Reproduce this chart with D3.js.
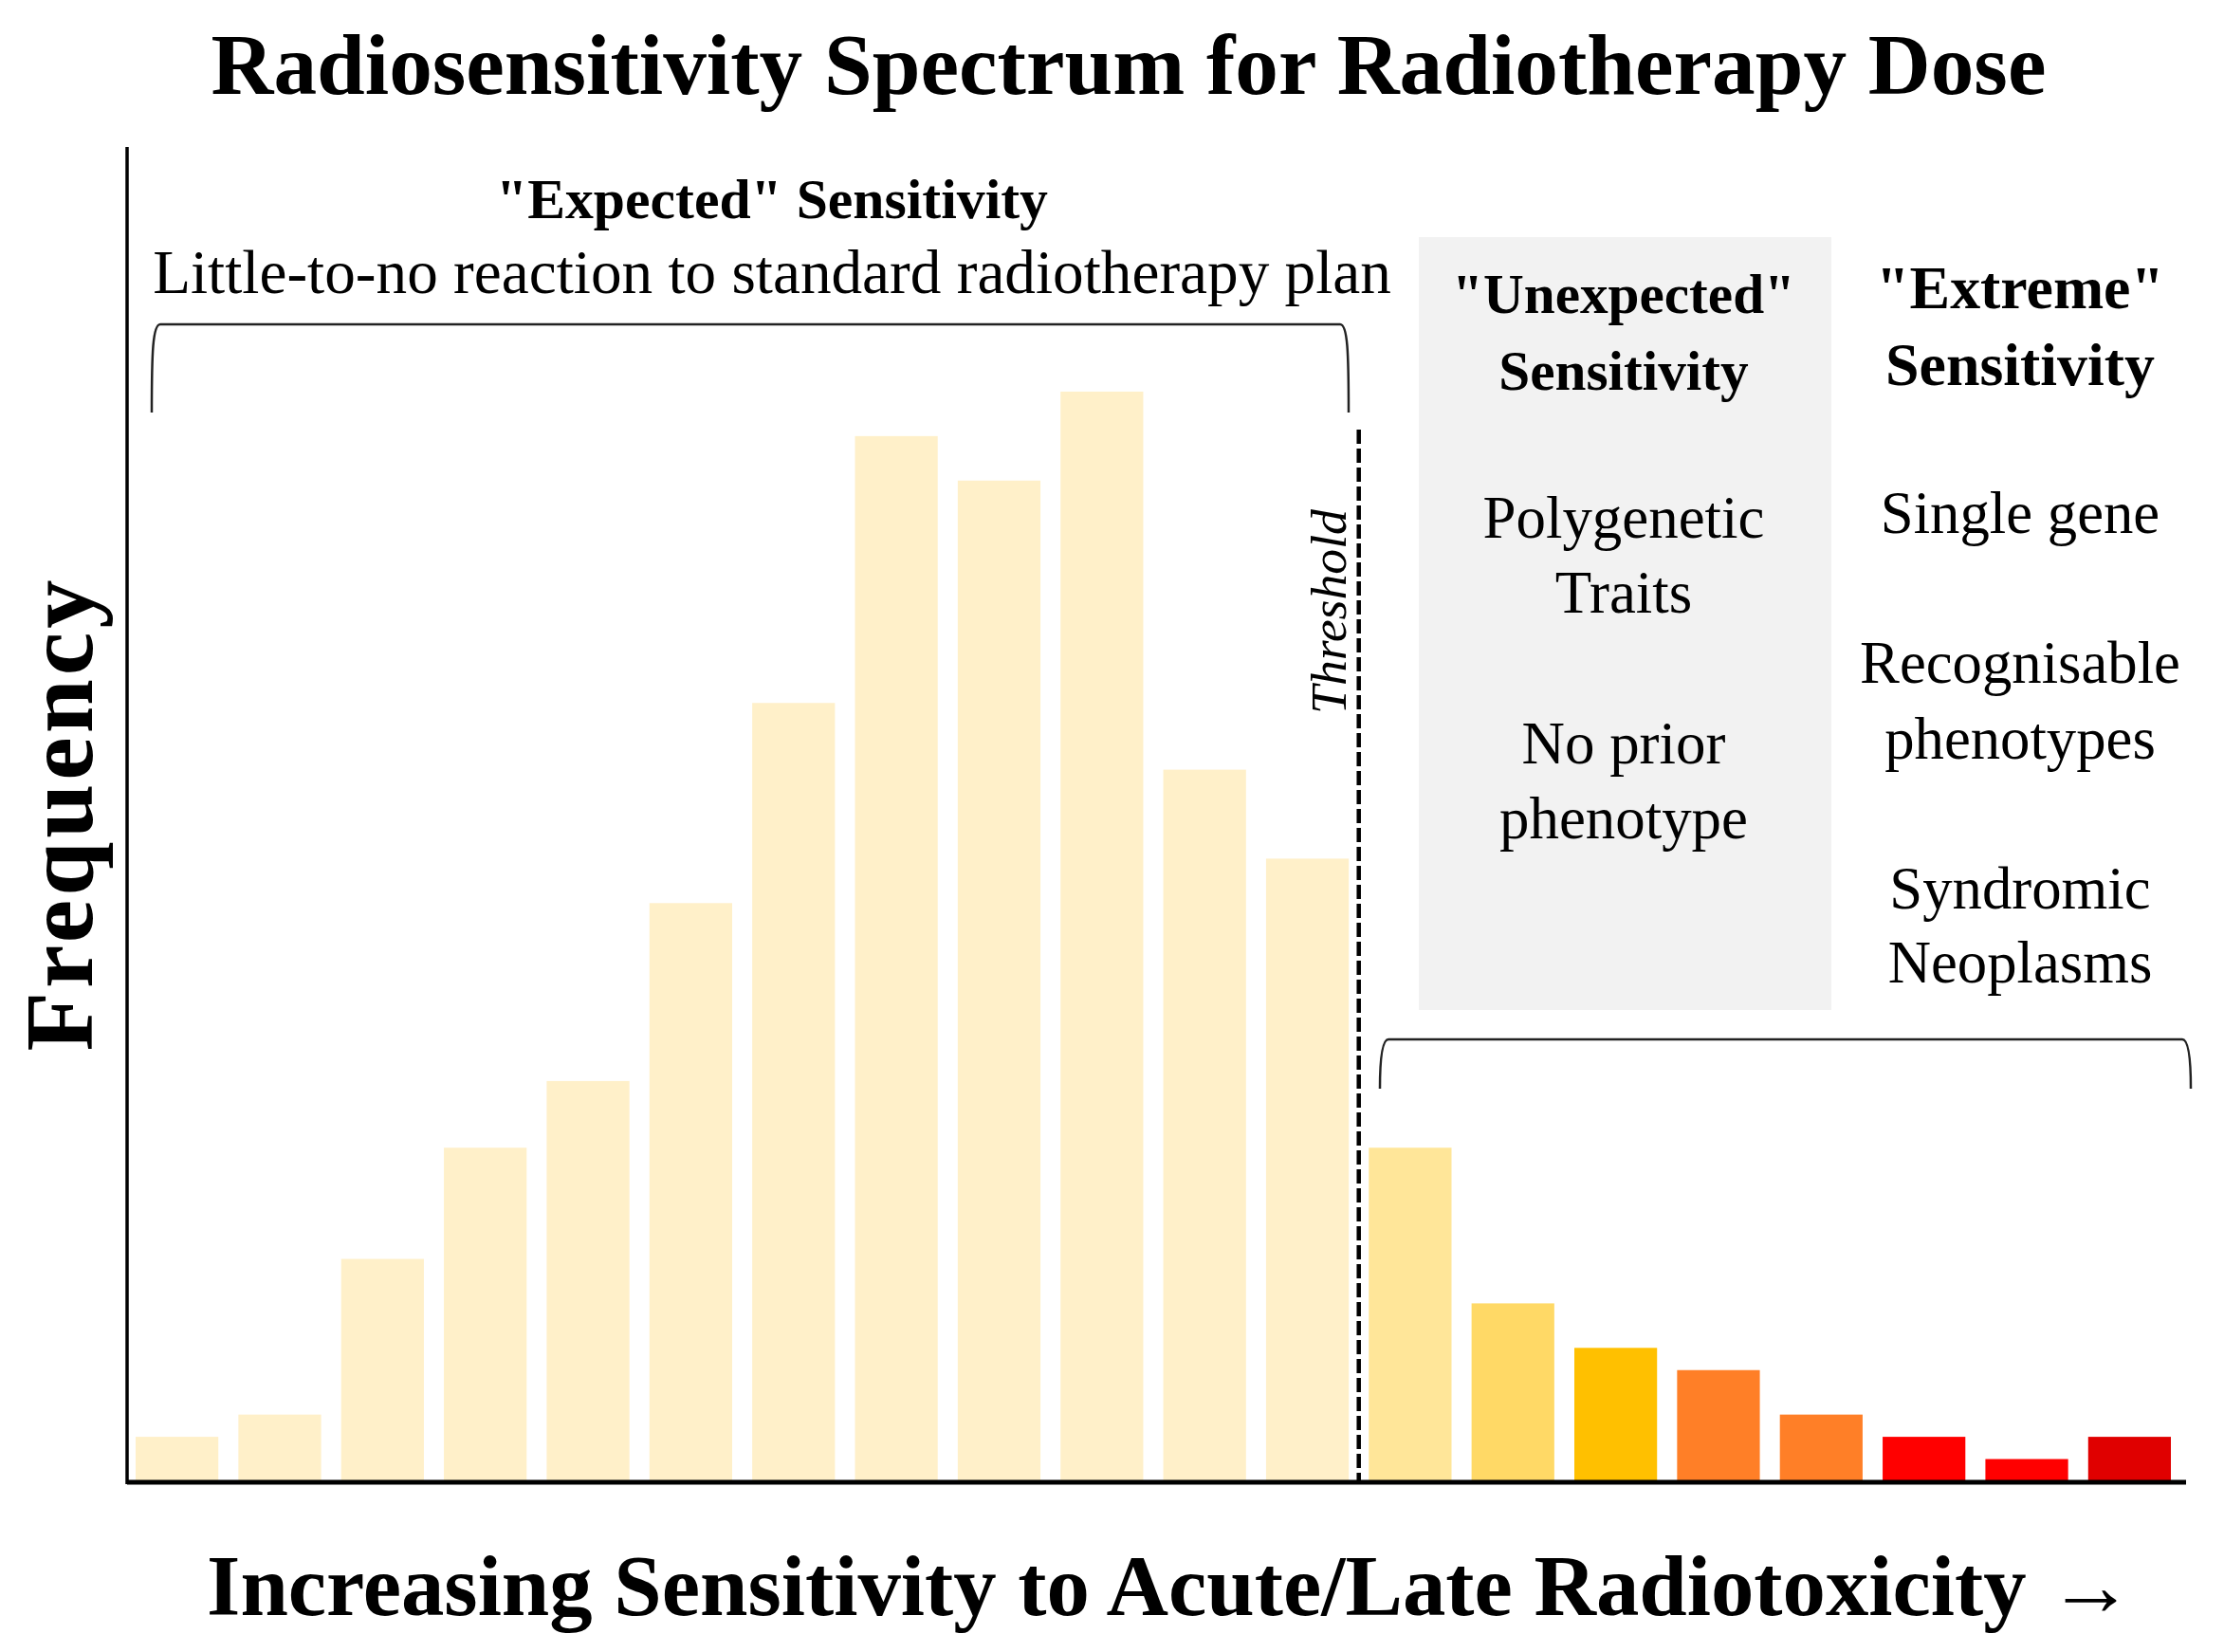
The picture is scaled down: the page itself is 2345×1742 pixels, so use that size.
<!DOCTYPE html>
<html>
<head>
<meta charset="utf-8">
<script src="https://cdn.jsdelivr.net/npm/d3@7"></script>
<style>
  html, body { margin: 0; padding: 0; background: #fff; }
  svg { display: block; }
</style>
</head>
<body>
<svg id="chart" width="2345" height="1742"></svg>
<script>
// ---------------- DATA ----------------
const categories = ["1","2","3","4","5","6","7","8","9","10","11","12","13","14","15","16","17","18","19","20"];
const frequency  = [4, 6, 20, 30, 36, 52, 70, 94, 90, 98, 64, 56, 30, 16, 12, 10, 6, 4, 2, 4];
const palette    = ["#FFF0C9","#FFF0C9","#FFF0C9","#FFF0C9","#FFF0C9","#FFF0C9","#FFF0C9","#FFF0C9","#FFF0C9","#FFF0C9","#FFF0C9","#FFF0C9",
                    "#FFE699","#FFD966","#FFC000","#FF7F27","#FF7F27","#FF0000","#FF0000","#E00000"];
const thresholdAfter = "12";

const titleText = "Radiosensitivity Spectrum for Radiotherapy Dose";
const xLabel = "Increasing Sensitivity to Acute/Late Radiotoxicity \u2192";
const yLabel = "Frequency";
const expectedHead = "\"Expected\" Sensitivity";
const expectedSub  = "Little-to-no reaction to standard radiotherapy plan";
const unexpectedHead = ["\"Unexpected\"", "Sensitivity"];
const unexpectedBody = [["Polygenetic", "Traits"], ["No prior", "phenotype"]];
const extremeHead = ["\"Extreme\"", "Sensitivity"];
const extremeBody = [["Single gene"], ["Recognisable", "phenotypes"], ["Syndromic", "Neoplasms"]];

// ---------------- LAYOUT ----------------
const FONT = "'Liberation Serif', 'Times New Roman', serif";
const svg = d3.select("#chart");
const plot = { left: 134, right: 2305, top: 155, bottom: 1562 };

const x = d3.scaleBand().domain(categories).range([143, 2289]).paddingInner(0.195).paddingOuter(0);
const y = d3.scaleLinear().domain([0, 120]).range([plot.bottom, plot.top]);
const color = d3.scaleOrdinal(categories, palette);

function fit(sel, target) {
  sel.attr("font-size", 100);
  const w = sel.node().getComputedTextLength();
  const fs = 100 * target / w;
  sel.attr("font-size", fs);
  return fs;
}

// grey panel for "Unexpected"
svg.append("rect")
  .attr("x", 1496).attr("y", 250).attr("width", 435).attr("height", 815)
  .attr("fill", "#F2F2F2");

// bars
svg.append("g").selectAll("rect")
  .data(categories.map((c, i) => ({ c, v: frequency[i] })))
  .join("rect")
  .attr("x", d => x(d.c))
  .attr("y", d => y(d.v))
  .attr("width", x.bandwidth())
  .attr("height", d => y(0) - y(d.v))
  .attr("fill", d => color(d.c));

// axes (no ticks)
const xAxis = d3.axisBottom(x).tickSize(0).tickFormat("");
const yAxis = d3.axisLeft(y).tickSize(0).tickFormat("").ticks(0);
const gx = svg.append("g").attr("transform", `translate(0,${plot.bottom + 1})`).call(xAxis);
gx.select(".domain").attr("d", `M${plot.left},0H${plot.right}`).attr("stroke", "#000").attr("stroke-width", 5);
const gy = svg.append("g").attr("transform", `translate(${plot.left},0)`).call(yAxis);
gy.select(".domain").attr("d", `M0,${plot.top}V${plot.bottom + 3}`).attr("stroke", "#000").attr("stroke-width", 3.5);

// threshold dashed line
const i12 = categories.indexOf(thresholdAfter);
const tx = (x(categories[i12]) + x.bandwidth() + x(categories[i12 + 1])) / 2;
svg.append("line")
  .attr("x1", tx).attr("x2", tx).attr("y1", 453).attr("y2", plot.bottom)
  .attr("stroke", "#000").attr("stroke-width", 4.5).attr("stroke-dasharray", "15,5");

const thr = svg.append("text")
  .attr("transform", `translate(${tx - 14},645) rotate(-90)`)
  .attr("text-anchor", "middle")
  .attr("font-family", FONT).attr("font-style", "italic")
  .attr("fill", "#000")
  .text("Threshold");
fit(thr, 216);

// brackets
function bracket(x0, x1, yTop, yBot) {
  return `M${x0},${yBot} C${x0},${yTop + 30} ${x0 + 1},${yTop} ${x0 + 9},${yTop} L${x1 - 9},${yTop} C${x1 - 1},${yTop} ${x1},${yTop + 30} ${x1},${yBot}`;
}
svg.append("path").attr("d", bracket(160, 1422, 342, 435))
  .attr("fill", "none").attr("stroke", "#222").attr("stroke-width", 2.5);
svg.append("path").attr("d", bracket(1455, 2310, 1096, 1148))
  .attr("fill", "none").attr("stroke", "#222").attr("stroke-width", 2.5);

// title
const title = svg.append("text")
  .attr("x", 1190).attr("y", 99).attr("text-anchor", "middle")
  .attr("font-family", FONT).attr("font-weight", "bold").attr("fill", "#000")
  .text(titleText);
fit(title, 1935);

// x label
const xl = svg.append("text")
  .attr("x", 1234).attr("y", 1703).attr("text-anchor", "middle")
  .attr("font-family", FONT).attr("font-weight", "bold").attr("fill", "#000")
  .text(xLabel);
fit(xl, 2032);

// y label
const yl = svg.append("text")
  .attr("transform", `translate(97,858) rotate(-90)`)
  .attr("text-anchor", "middle")
  .attr("font-family", FONT).attr("font-weight", "bold").attr("fill", "#000")
  .attr("letter-spacing", 4)
  .text(yLabel);
fit(yl, 502);

// expected annotations
const eh = svg.append("text")
  .attr("x", 814).attr("y", 230).attr("text-anchor", "middle")
  .attr("font-family", FONT).attr("font-weight", "bold").attr("fill", "#000")
  .text(expectedHead);
fit(eh, 582);
const es = svg.append("text")
  .attr("x", 814).attr("y", 309).attr("text-anchor", "middle")
  .attr("font-family", FONT).attr("fill", "#000")
  .text(expectedSub);
fit(es, 1306);

// column texts
function col(cx, lines, bold, targetRefIdx, targetW) {
  const sel = svg.append("g").selectAll("text")
    .data(lines).join("text")
    .attr("x", cx).attr("y", d => d.y).attr("text-anchor", "middle")
    .attr("font-family", FONT).attr("font-weight", bold ? "bold" : "normal").attr("fill", "#000")
    .text(d => d.t);
  const fs = fit(d3.select(sel.nodes()[targetRefIdx]), targetW);
  sel.attr("font-size", fs);
}
const uX = 1712, eX = 2130;
col(uX, [{t: unexpectedHead[0], y: 330}, {t: unexpectedHead[1], y: 411}], true, 0, 362);
col(uX, [{t: unexpectedBody[0][0], y: 567}, {t: unexpectedBody[0][1], y: 646},
         {t: unexpectedBody[1][0], y: 805}, {t: unexpectedBody[1][1], y: 884}], false, 0, 297);
col(eX, [{t: extremeHead[0], y: 325}, {t: extremeHead[1], y: 406}], true, 1, 284);
col(eX, [{t: extremeBody[0][0], y: 562},
         {t: extremeBody[1][0], y: 720}, {t: extremeBody[1][1], y: 800},
         {t: extremeBody[2][0], y: 958}, {t: extremeBody[2][1], y: 1036}], false, 1, 338);
</script>
</body>
</html>
